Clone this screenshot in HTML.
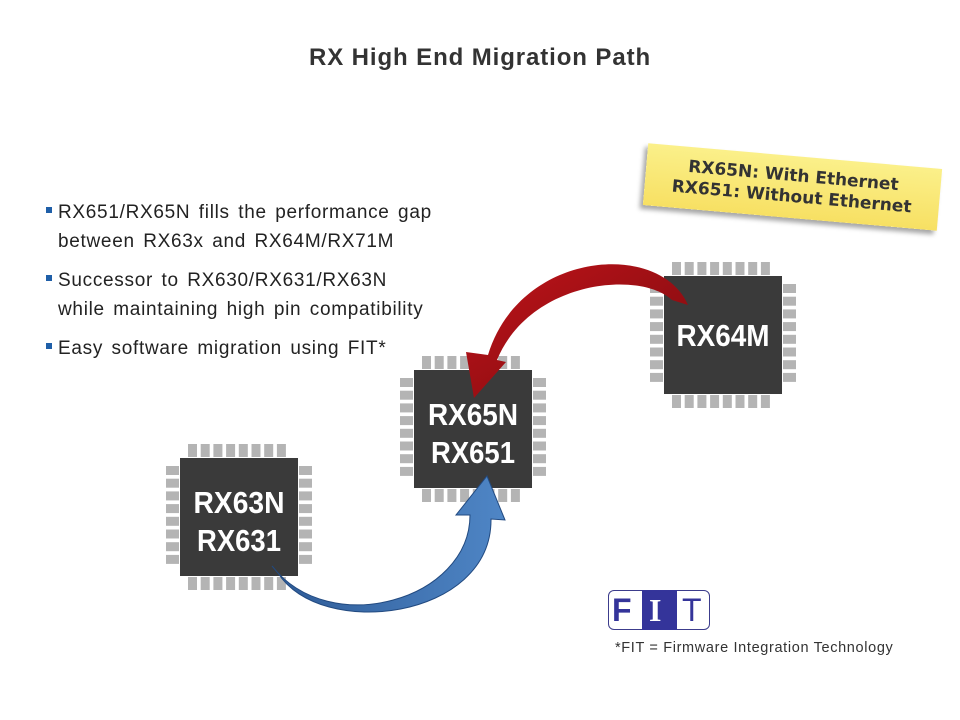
<!DOCTYPE html>
<html><head><meta charset="utf-8"><style>
body{margin:0;width:960px;height:720px;background:#fff;font-family:"Liberation Sans",sans-serif;overflow:hidden;position:relative}
.t{position:absolute;left:0;width:960px;top:44px;text-align:center;font-weight:bold;font-size:24px;letter-spacing:0.9px;color:#333}
.b{position:absolute;left:46px;font-size:19px;letter-spacing:0.7px;word-spacing:2.5px;color:#222;line-height:29px}
.b i{display:inline-block;width:6px;height:6px;background:#1f5fa8;margin-right:6px;vertical-align:middle;position:relative;top:-3px}
.note{position:absolute;left:645px;top:156px;width:295px;height:62px;background:linear-gradient(#fbf08a,#f7e063);transform:rotate(5deg);box-shadow:-3px 4px 5px rgba(0,0,0,.35);text-align:center;font-family:"DejaVu Sans",sans-serif;font-weight:bold;font-size:17px;color:#333;line-height:21px;padding-top:10px;box-sizing:border-box}
</style></head><body>
<div class="t">RX High End Migration Path</div>
<div class="b" style="top:198px"><i></i>RX651/RX65N fills the performance gap<br><span style="padding-left:12px">between RX63x and RX64M/RX71M</span></div>
<div class="b" style="top:266px"><i></i>Successor to RX630/RX631/RX63N<br><span style="padding-left:12px">while maintaining high pin compatibility</span></div>
<div class="b" style="top:334px"><i></i>Easy software migration using FIT*</div>
<div class="note">RX65N: With Ethernet<br>RX651: Without Ethernet</div>
<svg id="s" width="960" height="720" style="position:absolute;left:0;top:0">
<defs>
<linearGradient id="rg" x1="0" y1="0" x2="1" y2="1"><stop offset="0" stop-color="#c0141a"/><stop offset="1" stop-color="#7a0a0e"/></linearGradient>
<linearGradient id="bg" x1="0" y1="0" x2="1" y2="0"><stop offset="0" stop-color="#2d5a96"/><stop offset="1" stop-color="#4f86c6"/></linearGradient>
</defs>
</svg>
<div style="position:absolute;left:608px;top:590px;width:102px;height:40px;border:1.5px solid #3c3c8c;border-radius:6px;box-sizing:border-box"></div>
<div style="position:absolute;left:642px;top:590px;width:35px;height:40px;background:#34349a"></div>
<div style="position:absolute;left:612px;top:590px;font-size:32px;font-weight:bold;color:#34349a;line-height:40px">F</div>
<div style="position:absolute;left:649px;top:590px;font-size:32px;font-weight:bold;color:#fff;line-height:40px;font-family:'Liberation Serif',serif">I</div>
<div style="position:absolute;left:682px;top:590px;font-size:32px;color:#34349a;line-height:40px">T</div>
<div style="position:absolute;left:615px;top:640px;font-size:14.5px;letter-spacing:0.65px;color:#333">*FIT = Firmware Integration Technology</div>
<script>
var s=document.getElementById('s'),h='';
function chip(x,y,lines,lens){
  var w=118;
  for(var i=0;i<8;i++){var p=x+8+i*12.7;
    h+='<rect x="'+p+'" y="'+(y-14)+'" width="9" height="13" fill="#b4b4b4"/>';
    h+='<rect x="'+p+'" y="'+(y+w+1)+'" width="9" height="13" fill="#b4b4b4"/>';
    var q=y+8+i*12.7;
    h+='<rect x="'+(x-14)+'" y="'+q+'" width="13" height="9" fill="#b4b4b4"/>';
    h+='<rect x="'+(x+w+1)+'" y="'+q+'" width="13" height="9" fill="#b4b4b4"/>';}
  h+='<rect x="'+x+'" y="'+y+'" width="'+w+'" height="'+w+'" fill="#3a3a3a"/>';
  var ty=lines.length==1?y+w/2+11:y+w/2-4;
  lines.forEach(function(l,k){h+='<text x="'+(x+w/2)+'" y="'+(ty+k*38)+'" text-anchor="middle" font-family="Liberation Sans" font-weight="bold" font-size="31" fill="#fff" textLength="'+lens[k]+'" lengthAdjust="spacingAndGlyphs">'+l+'</text>';});
}
chip(664,276,['RX64M'],[93]);
chip(414,370,['RX65N','RX651'],[90,84]);
chip(180,458,['RX63N','RX631'],[91,84]);
h+='<path d="M688 305 C660 240 520 250 488 355 L466 352 L474 398 L506 362 L497 360 C530 280 640 270 672 300 Z" fill="url(#rg)"/>';
h+='<path d="M272 566 C330 640 470 600 470 515 L456 515 L487 476 L505 520 L491 519 C492 620 320 640 278 573 Z" fill="url(#bg)" stroke="#224a80" stroke-width="1"/>';
s.innerHTML+=h;
</script>
</body></html>
